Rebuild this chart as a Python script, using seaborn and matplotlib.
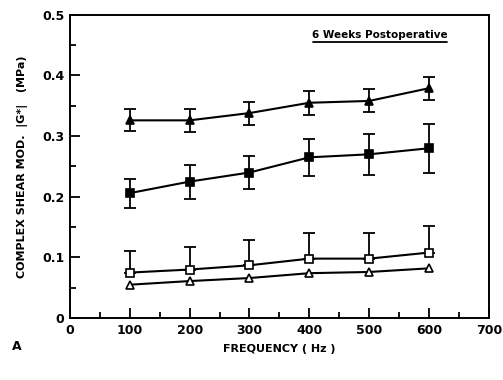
import numpy as np
import pandas as pd
import matplotlib
matplotlib.use("Agg")
import matplotlib.pyplot as plt
from matplotlib.ticker import MultipleLocator
from matplotlib.lines import Line2D
import seaborn as sns

# data
freq = [100, 200, 300, 400, 500, 600]
filled_tri = [0.326, 0.326, 0.338, 0.355, 0.358, 0.379]
filled_tri_err = [0.018, 0.019, 0.019, 0.020, 0.019, 0.019]
filled_sq = [0.206, 0.225, 0.240, 0.265, 0.270, 0.280]
filled_sq_err = [0.024, 0.028, 0.028, 0.030, 0.034, 0.040]
open_sq = [0.075, 0.080, 0.087, 0.098, 0.098, 0.108]
open_sq_err = [0.036, 0.037, 0.042, 0.042, 0.042, 0.043]
open_tri = [0.055, 0.061, 0.066, 0.074, 0.076, 0.082]

sns.set_theme(style="ticks")
plt.rcParams['font.family'] = ['DejaVu Sans']
plt.rcParams['font.weight'] = 'bold'
plt.rcParams['text.color'] = 'black'
plt.rcParams['xtick.color'] = 'black'
plt.rcParams['ytick.color'] = 'black'
plt.rcParams['axes.labelcolor'] = 'black'

fig = plt.figure(figsize=(5.03, 3.8), dpi=100)
ax = fig.add_axes([0.139, 0.163, 0.833, 0.798])

series = [
    (filled_tri, filled_tri_err, '^', 'black', 'both'),
    (filled_sq, filled_sq_err, 's', 'black', 'both'),
    (open_sq, open_sq_err, 's', 'white', 'up'),
    (open_tri, None, '^', 'white', None),
]

for vals, err, mk, fc, side in series:
    if err is not None:
        if side == 'up':
            yerr = [np.zeros(len(err)), err]
        else:
            yerr = err
        ax.errorbar(freq, vals, yerr=yerr, fmt='none', ecolor='black',
                    elinewidth=1.3, capsize=4.5, capthick=1.3, zorder=2)
    df = pd.DataFrame({'f': freq, 'v': vals})
    sns.lineplot(data=df, x='f', y='v', ax=ax, color='black', lw=1.5,
                 marker=mk, markersize=5.8 if mk == 's' else 5.5,
                 markerfacecolor=fc, markeredgecolor='black',
                 markeredgewidth=1.2, zorder=3)

ax.set_xlim(0, 700)
ax.set_ylim(0, 0.5)
ax.set_xticks(range(0, 701, 100))
ax.set_yticks([0, 0.1, 0.2, 0.3, 0.4, 0.5])
ax.set_yticklabels(['0', '0.1', '0.2', '0.3', '0.4', '0.5'])
ax.xaxis.set_minor_locator(MultipleLocator(50))
ax.yaxis.set_minor_locator(MultipleLocator(0.05))
ax.tick_params(which='both', direction='in', top=False, right=False,
               labelsize=9, width=1.3, pad=4)
ax.tick_params(which='major', length=7)
ax.tick_params(which='minor', length=4)
for lbl in ax.get_xticklabels() + ax.get_yticklabels():
    lbl.set_fontweight('bold')
for sp in ax.spines.values():
    sp.set_linewidth(1.4)
    sp.set_color('black')

ax.set_xlabel('FREQUENCY ( Hz )', fontsize=8, fontweight='bold', labelpad=5)
ax.set_ylabel('COMPLEX SHEAR MOD.  |G*|   (MPa)', fontsize=8,
              fontweight='bold', labelpad=10)

ax.text(0.74, 0.935, '6 Weeks Postoperative', transform=ax.transAxes,
        ha='center', va='center', fontsize=7.5, fontweight='bold')
ax.add_line(Line2D([0.58, 0.90], [0.91, 0.91], transform=ax.transAxes,
                   color='black', lw=1.3))

fig.text(0.024, 0.087, 'A', fontsize=9, fontweight='bold', ha='left', va='center')

fig.savefig('out.png', dpi=100)
